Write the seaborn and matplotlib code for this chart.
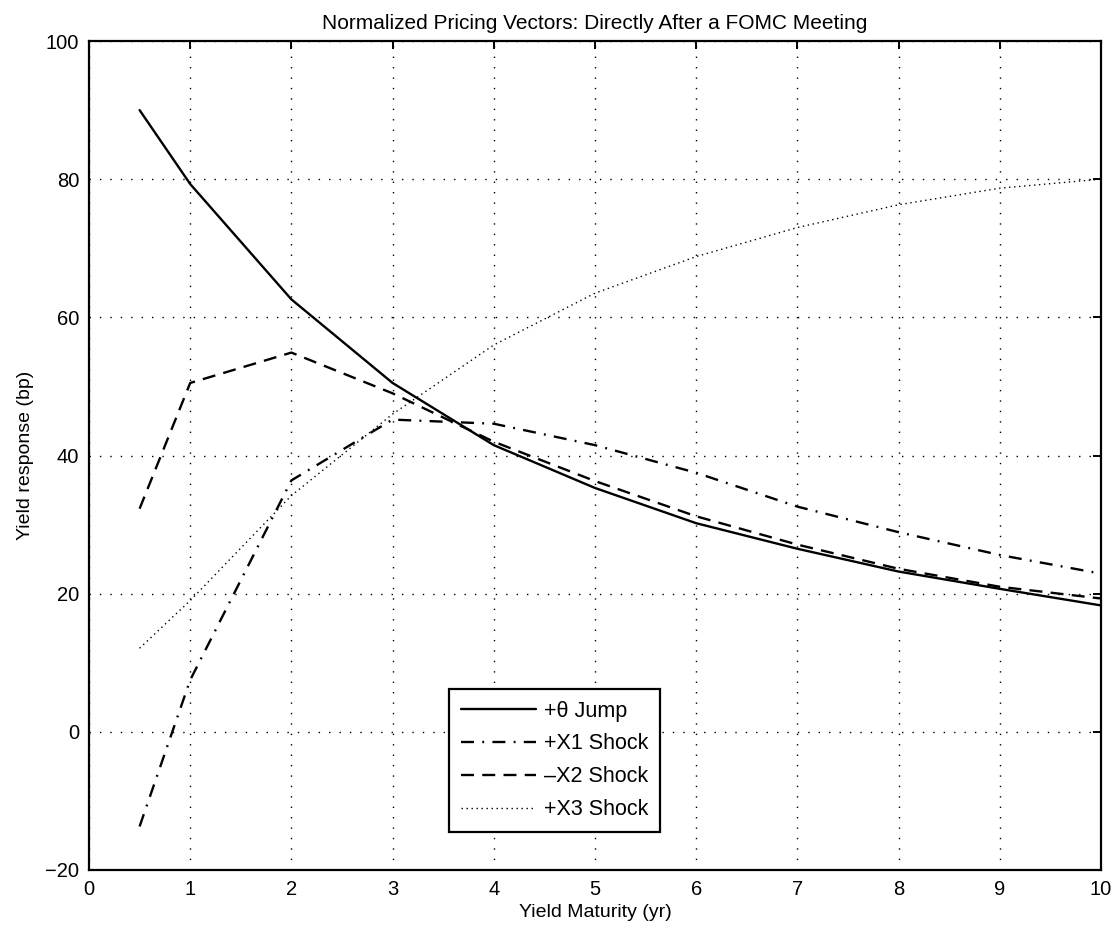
import numpy as np
import pandas as pd
import matplotlib
matplotlib.use("Agg")
import matplotlib.pyplot as plt
import seaborn as sns

# ---- data ----
maturity = [0.5, 1, 2, 3, 4, 5, 6, 7, 8, 9, 10]
theta_jump = [90.0, 79.3, 62.6, 50.5, 41.5, 35.3, 30.2, 26.5, 23.2, 20.7, 18.3]
x1_shock = [-13.7, 7.5, 36.4, 45.2, 44.6, 41.5, 37.5, 32.6, 28.9, 25.6, 22.9]
x2_shock = [32.3, 50.5, 54.9, 49.0, 42.0, 36.3, 31.2, 27.1, 23.6, 21.0, 19.3]
x3_shock = [12.1, 19.0, 34.2, 46.0, 56.0, 63.5, 68.8, 73.0, 76.3, 78.7, 80.0]
series_labels = ["+\u03b8 Jump", "+X1 Shock", "\u2013X2 Shock", "+X3 Shock"]
x_ticks = list(range(0, 11))
y_ticks = [-20, 0, 20, 40, 60, 80, 100]

sns.set_style("white")
plt.rcParams["font.family"] = ["Liberation Sans", "DejaVu Sans"]
plt.rcParams["axes.unicode_minus"] = True
plt.rcParams["text.color"] = "black"
plt.rcParams["axes.labelcolor"] = "black"
plt.rcParams["xtick.color"] = "black"
plt.rcParams["ytick.color"] = "black"

fig = plt.figure(figsize=(11.18, 9.39), dpi=100)
ax = fig.add_axes([0.0796, 0.0735, 0.9052, 0.8828])

styles = [
    dict(linestyle="-", linewidth=1.7),
    dict(linestyle=(0, (5.5, 3.5, 0.8, 3.5)), linewidth=1.7),
    dict(linestyle=(0, (5.5, 3.5)), linewidth=1.7),
    dict(linestyle=(0, (1.0, 2.6)), linewidth=1.0),
]
for vals, lab, st in zip([theta_jump, x1_shock, x2_shock, x3_shock], series_labels, styles):
    df = pd.DataFrame({"Maturity": maturity, "Response": vals})
    sns.lineplot(data=df, x="Maturity", y="Response", ax=ax, color="black",
                 label=lab, sort=True, **st)

ax.set_xlim(0, 10)
ax.set_ylim(-20, 100)
ax.set_xticks(x_ticks)
ax.set_yticks(y_ticks)
ax.grid(True, color="black", linestyle=(0, (1, 6.5)), linewidth=1.0)
for s in ax.spines.values():
    s.set_visible(True)
    s.set_linewidth(1.6)
    s.set_color("black")
ax.tick_params(direction="in", length=6, width=1.4, top=True, right=True,
               labelsize=14.5, pad=7, colors="black", labelcolor="black")

ax.set_title("Normalized Pricing Vectors: Directly After a FOMC Meeting",
             fontsize=15, pad=9, color="black")
ax.set_xlabel("Yield Maturity (yr)", fontsize=14, labelpad=4, color="black")
ax.set_ylabel("Yield response (bp)", fontsize=14, labelpad=8, color="black")

leg = ax.legend(loc="lower left", bbox_to_anchor=(0.3557, 0.0458),
                fontsize=15.5, frameon=True, fancybox=False, framealpha=1,
                edgecolor="black", handlelength=3.5, handletextpad=0.35,
                borderaxespad=0, borderpad=0.55, labelspacing=0.55)
leg.get_frame().set_linewidth(1.6)
for t in leg.get_texts():
    t.set_color("black")

fig.savefig("out.png", dpi=100, facecolor="white")
